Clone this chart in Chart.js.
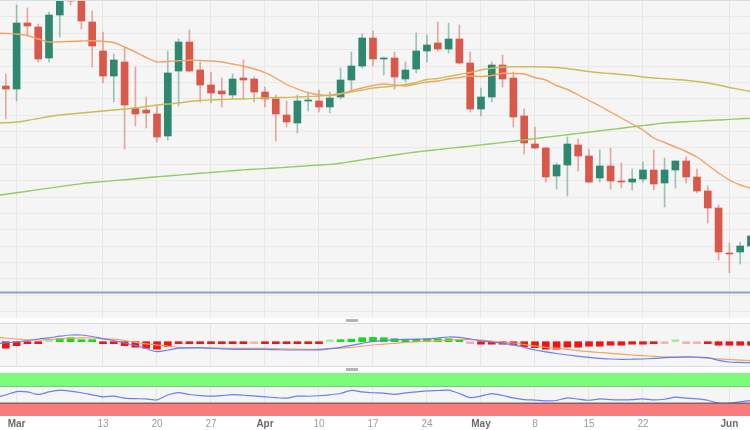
<!DOCTYPE html>
<html>
<head>
<meta charset="utf-8">
<script src="https://cdn.jsdelivr.net/npm/chart.js@4.4.0/dist/chart.umd.min.js"></script>
<style>
  html, body { margin: 0; padding: 0; background: #fff; }
  #wrap { position: relative; width: 750px; height: 430px; overflow: hidden; }
  canvas { position: absolute; left: 0; }
  #mainChart { top: 0; }
  #macdChart { top: 323px; }
  #rsiChart { top: 372px; }
  .rule { position: absolute; left: 0; width: 750px; height: 1px; background: #d6dee7; }
  .grip { position: absolute; left: 346px; width: 12px; height: 3px; background: #b5b5b5; }
</style>
</head>
<body>
<div id="wrap">
  <canvas id="mainChart" width="750" height="318"></canvas>
  <canvas id="macdChart" width="750" height="44"></canvas>
  <canvas id="rsiChart" width="750" height="60"></canvas>
  <div class="rule" style="top:0"></div>
  <div class="rule" style="top:323px"></div>
  <div class="rule" style="top:366px"></div>
  <div class="grip" style="top:319px"></div>
  <div class="grip" style="top:368px"></div>
</div>
<script>
// ── Data (daily, Feb 27 – Jun 5) ─────────────────────────
const dates = [
  'Feb 27', 'Feb 28',
  'Mar 1', 'Mar 2', 'Mar 3', 'Mar 6', 'Mar 7', 'Mar 8', 'Mar 9', 'Mar 10',
  'Mar 13', 'Mar 14', 'Mar 15', 'Mar 16', 'Mar 17', 'Mar 20', 'Mar 21', 'Mar 22', 'Mar 23', 'Mar 24',
  'Mar 27', 'Mar 28', 'Mar 29', 'Mar 30', 'Mar 31',
  'Apr 3', 'Apr 4', 'Apr 5', 'Apr 6', 'Apr 7', 'Apr 10', 'Apr 11', 'Apr 12', 'Apr 13', 'Apr 14',
  'Apr 17', 'Apr 18', 'Apr 19', 'Apr 20', 'Apr 21', 'Apr 24', 'Apr 25', 'Apr 26', 'Apr 27', 'Apr 28',
  'May 1', 'May 2', 'May 3', 'May 4', 'May 5', 'May 8', 'May 9', 'May 10', 'May 11', 'May 12',
  'May 15', 'May 16', 'May 17', 'May 18', 'May 19', 'May 22', 'May 23', 'May 24', 'May 25', 'May 26',
  'May 29', 'May 30', 'May 31', 'Jun 1', 'Jun 2', 'Jun 5'
];

const opens = [null,
  0.8914, 0.8911, 0.8977, 0.8973, 0.8942, 0.8985, 0.9006, 0.9001, 0.8978, 0.8949,
  0.8924, 0.8938, 0.8892, 0.8890, 0.8886, 0.8864, 0.8929, 0.8958, 0.8930, 0.8915,
  0.8909, 0.8905, 0.8922, 0.8921, 0.8908, 0.8901, 0.8885, 0.8877, 0.8899, 0.8899,
  0.8893, 0.8903, 0.8920, 0.8934, 0.8962, 0.8941, 0.8942, 0.8921, 0.8931, 0.8949,
  0.8957, 0.8951, 0.8961, 0.8937, 0.8891, 0.8903, 0.8935, 0.8922, 0.8884, 0.8856,
  0.8852, 0.8824, 0.8835, 0.8855, 0.8844, 0.8822, 0.8834, 0.8819, 0.8818, 0.8821,
  0.8830, 0.8817, 0.8830, 0.8839, 0.8823, 0.8809, 0.8792, 0.8747, 0.8748, 0.8754];
const highs = [null,
  0.8926, 0.8995, 0.8992, 0.8976, 0.8988, 0.9010, 0.9012, 0.9005, 0.8989, 0.8968,
  0.8946, 0.8952, 0.8933, 0.8903, 0.8894, 0.8949, 0.8961, 0.8970, 0.8938, 0.8928,
  0.8922, 0.8926, 0.8940, 0.8923, 0.8913, 0.8905, 0.8899, 0.8905, 0.8908, 0.8910,
  0.8908, 0.8932, 0.8948, 0.8966, 0.8969, 0.8943, 0.8948, 0.8938, 0.8967, 0.8965,
  0.8978, 0.8977, 0.8975, 0.8948, 0.8912, 0.8938, 0.8945, 0.8928, 0.8891, 0.8873,
  0.8853, 0.8837, 0.8863, 0.8861, 0.8851, 0.8850, 0.8852, 0.8837, 0.8831, 0.8838,
  0.8850, 0.8842, 0.8839, 0.8843, 0.8831, 0.8814, 0.8795, 0.8757, 0.8758, 0.8770];
const lows = [null,
  0.8881, 0.8899, 0.8964, 0.8938, 0.8938, 0.8963, 0.8995, 0.8971, 0.8933, 0.8917,
  0.8898, 0.8851, 0.8874, 0.8872, 0.8858, 0.8860, 0.8894, 0.8928, 0.8898, 0.8897,
  0.8893, 0.8901, 0.8901, 0.8898, 0.8893, 0.8859, 0.8873, 0.8867, 0.8889, 0.8888,
  0.8887, 0.8901, 0.8910, 0.8932, 0.8934, 0.8925, 0.8911, 0.8918, 0.8927, 0.8938,
  0.8949, 0.8947, 0.8936, 0.8888, 0.8884, 0.8898, 0.8913, 0.8873, 0.8846, 0.8851,
  0.8818, 0.8811, 0.8804, 0.8829, 0.8817, 0.8818, 0.8811, 0.8812, 0.8810, 0.8818,
  0.8810, 0.8793, 0.8812, 0.8817, 0.8807, 0.8777, 0.8740, 0.8727, 0.8736, 0.8750];
const closes = [null,
  0.8911, 0.8977, 0.8974, 0.8941, 0.8985, 0.9003, 0.8999, 0.8979, 0.8954, 0.8924,
  0.8940, 0.8895, 0.8886, 0.8887, 0.8863, 0.8927, 0.8958, 0.8929, 0.8915, 0.8907,
  0.8906, 0.8921, 0.8920, 0.8908, 0.8901, 0.8886, 0.8878, 0.8899, 0.8900, 0.8893,
  0.8902, 0.8920, 0.8934, 0.8962, 0.8941, 0.8942, 0.8923, 0.8930, 0.8949, 0.8955,
  0.8951, 0.8961, 0.8937, 0.8891, 0.8903, 0.8935, 0.8921, 0.8883, 0.8857, 0.8852,
  0.8823, 0.8835, 0.8856, 0.8844, 0.8818, 0.8834, 0.8819, 0.8818, 0.8821, 0.8830,
  0.8816, 0.8830, 0.8839, 0.8823, 0.8809, 0.8792, 0.8748, 0.8746, 0.8754, 0.8764];

// moving averages
const sma20 = [
  0.89670, 0.89665, 0.89660, 0.89645, 0.89610, 0.89580, 0.89582, 0.89585, 0.89590, 0.89593,
  0.89587, 0.89575, 0.89530, 0.89480, 0.89425, 0.89380, 0.89385, 0.89392, 0.89398, 0.89395,
  0.89390, 0.89380, 0.89360, 0.89340, 0.89310, 0.89273, 0.89220, 0.89155, 0.89110, 0.89073,
  0.89055, 0.89043, 0.89060, 0.89093, 0.89120, 0.89145, 0.89160, 0.89150, 0.89140, 0.89160,
  0.89180, 0.89190, 0.89210, 0.89225, 0.89240, 0.89235, 0.89245, 0.89267, 0.89265, 0.89260,
  0.89225, 0.89200, 0.89145, 0.89105, 0.89050, 0.88995, 0.88940, 0.88880, 0.88820, 0.88760,
  0.88700, 0.88620, 0.88575, 0.88530, 0.88485, 0.88430, 0.88350, 0.88270, 0.88200, 0.88150, 0.88115];
const sma50 = [
  0.88770, 0.88772, 0.88780, 0.88795, 0.88815, 0.88835, 0.88850, 0.88860, 0.88870, 0.88880,
  0.88890, 0.88900, 0.88910, 0.88920, 0.88935, 0.88950, 0.88960, 0.88970, 0.88985, 0.88995,
  0.89000, 0.89005, 0.89010, 0.89010, 0.89015, 0.89020, 0.89025, 0.89025, 0.89030, 0.89035,
  0.89040, 0.89050, 0.89065, 0.89080, 0.89100, 0.89120, 0.89130, 0.89140, 0.89155, 0.89175,
  0.89205, 0.89215, 0.89235, 0.89255, 0.89275, 0.89300, 0.89317, 0.89330, 0.89333, 0.89333,
  0.89333, 0.89330, 0.89325, 0.89315, 0.89300, 0.89285, 0.89273, 0.89265, 0.89255, 0.89245,
  0.89230, 0.89220, 0.89213, 0.89205, 0.89198, 0.89185, 0.89170, 0.89150, 0.89125, 0.89105, 0.89083];
const sma200 = [
  0.88042, 0.88058, 0.88073, 0.88088, 0.88104, 0.88119, 0.88134, 0.88149, 0.88164, 0.88175,
  0.88184, 0.88194, 0.88203, 0.88213, 0.88222, 0.88232, 0.88240, 0.88249, 0.88258, 0.88267,
  0.88275, 0.88284, 0.88293, 0.88301, 0.88308, 0.88314, 0.88320, 0.88327, 0.88335, 0.88342,
  0.88350, 0.88356, 0.88368, 0.88385, 0.88401, 0.88418, 0.88434, 0.88450, 0.88466, 0.88480,
  0.88492, 0.88504, 0.88516, 0.88527, 0.88539, 0.88551, 0.88563, 0.88575, 0.88588, 0.88601,
  0.88614, 0.88627, 0.88640, 0.88653, 0.88666, 0.88679, 0.88692, 0.88705, 0.88718, 0.88731,
  0.88744, 0.88757, 0.88770, 0.88777, 0.88783, 0.88789, 0.88795, 0.88800, 0.88806, 0.88812, 0.88817];
const supportLevel = 0.87075;

// MACD panel
const macdLine = [
  -0.00021, -0.00011, -0.00003, 0.00012, 0.00027, 0.00039, 0.00055, 0.00067, 0.00067, 0.00052,
  0.00029, 0.00012, -0.00013, -0.00038, -0.00068, -0.00100, -0.00083, -0.00065, -0.00061, -0.00060,
  -0.00065, -0.00071, -0.00076, -0.00076, -0.00076, -0.00076, -0.00079, -0.00083, -0.00083, -0.00083,
  -0.00081, -0.00070, -0.00056, -0.00036, -0.00016, 0.00003, 0.00012, 0.00019, 0.00023, 0.00025,
  0.00027, 0.00037, 0.00047, 0.00043, 0.00027, 0.00009, -0.00003, -0.00016, -0.00031, -0.00056,
  -0.00083, -0.00101, -0.00118, -0.00133, -0.00145, -0.00157, -0.00166, -0.00173, -0.00176, -0.00175,
  -0.00173, -0.00167, -0.00160, -0.00156, -0.00152, -0.00153, -0.00160, -0.00186, -0.00203, -0.00207, -0.00210];
const signalLine = [
  0.00045, 0.00037, 0.00027, 0.00019, 0.00017, 0.00022, 0.00029, 0.00035, 0.00039, 0.00037,
  0.00031, 0.00025, 0.00012, -0.00006, -0.00021, -0.00033, -0.00045, -0.00056, -0.00061, -0.00063,
  -0.00064, -0.00065, -0.00066, -0.00066, -0.00066, -0.00067, -0.00069, -0.00072, -0.00075, -0.00076,
  -0.00074, -0.00069, -0.00065, -0.00056, -0.00045, -0.00033, -0.00025, -0.00016, -0.00008, -0.00001,
  0.00005, 0.00011, 0.00016, 0.00020, 0.00023, 0.00015, 0.00006, -0.00003, -0.00013, -0.00029,
  -0.00044, -0.00057, -0.00065, -0.00076, -0.00089, -0.00099, -0.00108, -0.00117, -0.00125, -0.00133,
  -0.00140, -0.00146, -0.00151, -0.00153, -0.00155, -0.00158, -0.00164, -0.00172, -0.00178, -0.00184, -0.00190];
const macdHist = [null,
  -0.00065, -0.00040, -0.00020, -0.00020, 0.00005, 0.00033, 0.00040, 0.00020, 0.00015, -0.00020,
  -0.00020, -0.00040, -0.00055, -0.00065, -0.00075, -0.00050, -0.00020, -0.00020, -0.00020, -0.00020,
  -0.00020, -0.00015, -0.00010, -0.00005, -0.00020, -0.00020, -0.00020, -0.00020, -0.00015, -0.00010,
  0.00003, 0.00015, 0.00025, 0.00040, 0.00043, 0.00040, 0.00030, 0.00025, 0.00025, 0.00030,
  0.00030, 0.00030, 0.00020, -0.00005, -0.00025, -0.00025, -0.00025, -0.00033, -0.00050, -0.00060,
  -0.00075, -0.00075, -0.00055, -0.00055, -0.00045, -0.00045, -0.00035, -0.00035, -0.00025, -0.00025,
  -0.00020, -0.00005, 0.00005, -0.00005, -0.00005, -0.00015, -0.00035, -0.00035, -0.00035, -0.00035];

// RSI panel
const rsiValues = [
  42.7, 48.8, 56.8, 56.1, 50.0, 56.1, 60.2, 57.8, 54.1, 49.3,
  44.6, 46.3, 41.5, 40.2, 39.8, 37.3, 48.8, 54.4, 50.0, 47.6,
  46.3, 47.6, 49.5, 48.3, 46.8, 44.6, 42.7, 41.5, 46.3, 45.9,
  47.1, 49.3, 52.4, 59.8, 56.1, 54.1, 53.2, 50.5, 53.7, 56.1,
  58.5, 59.3, 60.2, 52.4, 42.7, 46.3, 52.0, 47.6, 42.0, 38.3,
  37.1, 35.4, 36.1, 42.2, 39.0, 36.6, 39.8, 38.3, 37.3, 38.3,
  39.8, 37.3, 39.0, 43.9, 41.5, 39.8, 36.6, 30.0, 30.0, 32.9, 35.9];
const rsiTop = 100, rsiOverbought = 70, rsiOversold = 30;

// x-axis labels
const tickDates = ['Mar 1', 'Mar 13', 'Mar 20', 'Mar 27', 'Apr 3', 'Apr 10', 'Apr 17', 'Apr 24', 'May 1', 'May 8', 'May 15', 'May 22', 'Jun 1'];
const tickTexts = ['Mar', '13', '20', '27', 'Apr', '10', '17', '24', 'May', '8', '15', '22', 'Jun'];
const monthNames = ['Mar', 'Apr', 'May', 'Jun'];

// ── Shared settings ──────────────────────────────────────
const X_MIN = 0.463, X_MAX = 69.91;
const GRID_TOP = 0.89994, GRID_STEP = 0.0016375;
const UP = '#2e876f', DOWN = '#d9584a';
const UP_WICK = 'rgba(46,135,111,0.45)', DOWN_WICK = 'rgba(217,88,74,0.5)';
const tickPos = tickDates.map(d => dates.indexOf(d));
const pts = arr => arr.map((v, i) => ({ x: i, y: v })).filter(p => p.y !== null);

const panelBg = {
  id: 'panelBg',
  beforeDraw(chart) {
    const { ctx, chartArea: a } = chart;
    ctx.save();
    ctx.fillStyle = '#f5f5f5';
    ctx.fillRect(a.left, a.top, a.right - a.left, a.bottom - a.top);
    ctx.restore();
  }
};

function xAxis(withLabels) {
  return {
    type: 'linear', min: X_MIN, max: X_MAX, offset: false,
    grid: { color: '#e6e6e6', drawTicks: false, offset: false },
    border: { display: false },
    afterBuildTicks: s => { s.ticks = tickPos.map(v => ({ value: v })); },
    ticks: {
      display: withLabels, autoSkip: false, maxRotation: 0, padding: 2,
      callback: v => tickTexts[tickPos.indexOf(v)],
      color: c => monthNames.includes(tickTexts[c.index]) ? '#6b6b6b' : '#9c9c9c',
      font: c => ({
        family: "'Liberation Sans', Arial, sans-serif", size: 10,
        weight: monthNames.includes(tickTexts[c.index]) ? 'bold' : 'normal'
      })
    }
  };
}

const baseOptions = {
  responsive: false,
  maintainAspectRatio: false,
  animation: false,
  events: [],
  layout: { padding: 0 },
  plugins: { legend: { display: false }, tooltip: { enabled: false } }
};

// ── Price chart ──────────────────────────────────────────
const candleIdx = dates.map((d, i) => i).filter(i => opens[i] !== null);
const isUp = i => closes[i] >= opens[i];

new Chart(document.getElementById('mainChart'), {
  type: 'bar',
  data: {
    datasets: [
      {
        type: 'bar', data: candleIdx.map(i => ({ x: i, y: [lows[i], highs[i]] })),
        backgroundColor: candleIdx.map(i => isUp(i) ? UP_WICK : DOWN_WICK),
        barThickness: 1, grouped: false, order: 6
      },
      {
        type: 'bar', data: candleIdx.map(i => ({ x: i, y: [opens[i], closes[i]] })),
        backgroundColor: candleIdx.map(i => isUp(i) ? UP : DOWN),
        barThickness: 7, minBarLength: 1, grouped: false, order: 5
      },
      { type: 'line', data: pts(sma200), borderColor: '#93cc63', borderWidth: 1.4, pointRadius: 0, tension: 0.3, order: 3 },
      { type: 'line', data: pts(sma50), borderColor: '#cbbd55', borderWidth: 1.4, pointRadius: 0, tension: 0.3, order: 2 },
      { type: 'line', data: pts(sma20), borderColor: '#f4a263', borderWidth: 1.4, pointRadius: 0, tension: 0.3, order: 1 },
      {
        type: 'line', data: [{ x: X_MIN, y: supportLevel }, { x: X_MAX, y: supportLevel }],
        borderColor: '#8fa3bc', borderWidth: 2, pointRadius: 0, order: 0
      }
    ]
  },
  options: {
    ...baseOptions,
    scales: {
      x: xAxis(false),
      y: {
        min: 0.8682, max: 0.9000,
        grid: { color: '#e9e9e9', drawTicks: false },
        border: { display: false },
        ticks: { display: false },
        afterBuildTicks: s => {
          const t = [];
          for (let v = GRID_TOP; v > s.min; v -= GRID_STEP) t.push({ value: v });
          s.ticks = t;
        }
      }
    }
  },
  plugins: [panelBg]
});

// ── MACD ─────────────────────────────────────────────────
const histIdx = dates.map((d, i) => i).filter(i => macdHist[i] !== null);
const histColor = v => {
  if (Math.abs(v) <= 0.00005) return v >= 0 ? 'rgba(20,220,20,0.35)' : 'rgba(240,20,20,0.3)';
  return v >= 0 ? '#14dc14' : '#f01414';
};

new Chart(document.getElementById('macdChart'), {
  type: 'bar',
  data: {
    datasets: [
      {
        type: 'bar', data: histIdx.map(i => ({ x: i, y: macdHist[i] })),
        backgroundColor: histIdx.map(i => histColor(macdHist[i])),
        barThickness: 7, minBarLength: 2, grouped: false, order: 3
      },
      { type: 'line', data: pts(signalLine), borderColor: '#f4a263', borderWidth: 1.2, pointRadius: 0, tension: 0.3, order: 2 },
      { type: 'line', data: pts(macdLine), borderColor: '#6b7ef2', borderWidth: 1.2, pointRadius: 0, tension: 0.3, order: 1 }
    ]
  },
  options: {
    ...baseOptions,
    scales: {
      x: xAxis(false),
      y: { display: false, min: -0.00253, max: 0.00187 }
    }
  },
  plugins: [panelBg]
});

// ── RSI ──────────────────────────────────────────────────
const level = v => [{ x: X_MIN, y: v }, { x: X_MAX, y: v }];

new Chart(document.getElementById('rsiChart'), {
  type: 'line',
  data: {
    datasets: [
      { data: level(rsiTop), borderWidth: 0, pointRadius: 0, fill: '+1', backgroundColor: '#7bfa7b' },
      { data: level(rsiOverbought), borderColor: '#58b758', borderWidth: 1.5, pointRadius: 0, fill: false },
      { data: level(rsiOversold), borderColor: '#4d4d4d', borderWidth: 1, pointRadius: 0, fill: 'start', backgroundColor: '#fa7b7b' },
      { data: pts(rsiValues), borderColor: '#6b7ef2', borderWidth: 1.2, pointRadius: 0, tension: 0.2, fill: false }
    ]
  },
  options: {
    ...baseOptions,
    layout: { padding: { top: 1 } },
    scales: {
      x: xAxis(true),
      y: { display: false, min: 0, max: 100 }
    }
  },
  plugins: [panelBg]
});
</script>
</body>
</html>
